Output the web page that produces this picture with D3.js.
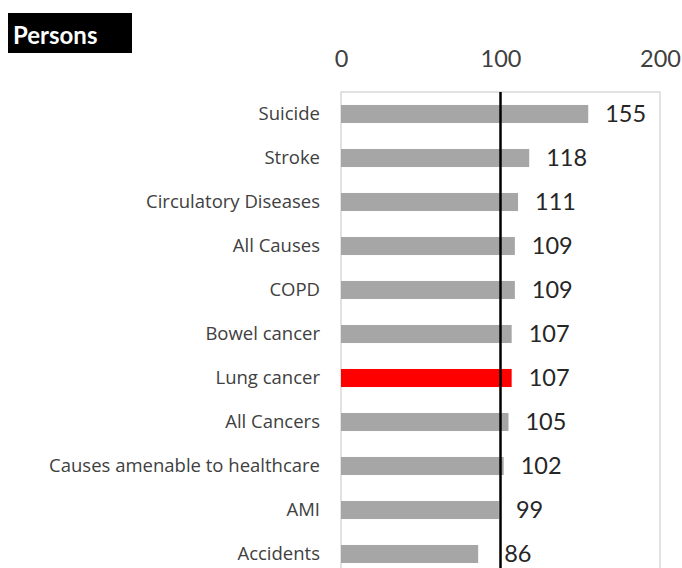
<!DOCTYPE html>
<html>
<head>
<meta charset="utf-8">
<script src="https://cdn.jsdelivr.net/npm/d3@7"></script>
<style>
  body { margin: 0; background: #fff; }
</style>
</head>
<body>
<div id="chart"></div>
<script>
// data
var categories = ["Suicide", "Stroke", "Circulatory Diseases", "All Causes", "COPD",
  "Bowel cancer", "Lung cancer", "All Cancers", "Causes amenable to healthcare", "AMI", "Accidents"]
var values = [155, 118, 111, 109, 109, 107, 107, 105, 102, 99, 86]
var highlight = "Lung cancer"
var ticks = [0, 100, 200]
var refValue = 100
var title = "Persons"

var svgw = 682
var svgh = 568
var margin = {top: 92, left: 341, right: 22}
var plotBottom = 92 + 44 * categories.length

var svg = d3.select('#chart').append('svg')
  .attr('width', svgw)
  .attr('height', svgh)
  .style('font-family', 'Lato, sans-serif')

var x = d3.scaleLinear()
  .domain([0, 200])
  .range([margin.left, svgw - margin.right])

var y = d3.scaleBand()
  .domain(categories)
  .range([margin.top, plotBottom])
  .paddingInner(0.59)
  .paddingOuter(0.295)

// title box
svg.append('rect')
  .attr('x', 8).attr('y', 13)
  .attr('width', 124).attr('height', 40)
  .attr('fill', '#000')
svg.append('text')
  .attr('x', 13).attr('y', 44)
  .attr('fill', '#fff')
  .style('font-family', 'Lato, sans-serif')
  .style('font-size', '24px')
  .style('font-weight', 'bold')
  .text(title)

// plot area border
svg.append('path')
  .attr('d', 'M' + x(0) + ',' + plotBottom + 'V' + margin.top + 'H' + x(200) + 'V' + plotBottom)
  .attr('fill', 'none')
  .attr('stroke', '#d9d9d9')
  .attr('stroke-width', 1.5)

// top axis labels
var xAxis = svg.append('g')
  .attr('transform', 'translate(0,' + 67 + ')')
  .call(d3.axisTop(x).tickValues(ticks).tickSize(0).tickPadding(0))
xAxis.select('.domain').remove()
xAxis.selectAll('text')
  .style('font-family', 'Lato, sans-serif')
  .style('font-size', '23.5px')
  .attr('fill', '#404040')

// category labels
var yAxis = svg.append('g')
  .attr('transform', 'translate(' + 320 + ',0)')
  .call(d3.axisLeft(y).tickSize(0).tickPadding(0))
yAxis.select('.domain').remove()
yAxis.selectAll('text')
  .style('font-family', '"Open Sans", sans-serif')
  .style('font-size', '18.5px')
  .attr('fill', '#404040')

// bars
svg.selectAll('.bar')
  .data(categories)
  .enter()
  .append('rect')
  .attr('class', 'bar')
  .attr('x', x(0))
  .attr('y', function(d){ return y(d) })
  .attr('width', function(d, i){ return x(values[i]) - x(0) })
  .attr('height', y.bandwidth())
  .attr('fill', function(d){ return d == highlight ? '#ff0000' : '#a6a6a6' })

// value labels
svg.selectAll('.val')
  .data(categories)
  .enter()
  .append('text')
  .attr('class', 'val')
  .attr('x', function(d, i){ return x(values[i]) + (values[i] < 90 ? 26 : 17) })
  .attr('y', function(d){ return y(d) + y.bandwidth() / 2 })
  .attr('dy', '0.36em')
  .style('font-family', 'Lato, sans-serif')
  .style('font-size', '23.5px')
  .attr('fill', '#262626')
  .text(function(d, i){ return values[i] })

// reference line
svg.append('line')
  .attr('x1', x(refValue)).attr('x2', x(refValue))
  .attr('y1', margin.top).attr('y2', plotBottom)
  .attr('stroke', '#000')
  .attr('stroke-width', 2.5)
</script>
</body>
</html>
